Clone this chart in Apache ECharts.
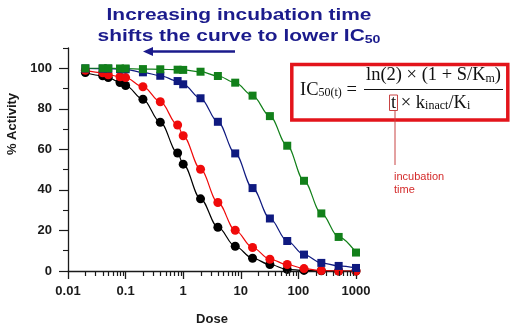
<!DOCTYPE html>
<html>
<head>
<meta charset="utf-8">
<script src="https://cdn.jsdelivr.net/npm/echarts@6/dist/echarts.min.js"></script>
<style>
  html, body { margin: 0; padding: 0; background: #fff; }
  #chart { width: 513px; height: 325px; }
</style>
</head>
<body>
<div id="chart"></div>
<script>
// Inhibitor dose series (same dilution points for every incubation time)
const doses = [0.02, 0.04, 0.05, 0.08, 0.1, 0.2, 0.4, 0.8, 1, 2, 4, 8, 16, 32, 64, 125, 250, 500, 1000];

// % activity remaining, one array per incubation time (longest first)
const blackActivity = [97.9, 96.3, 95.4, 93.0, 91.5, 84.7, 73.4, 58.2, 52.7, 35.6, 21.6, 12.2, 6.3, 3.2, 0.8, 0.3, 0.1, 0, 0];
const redActivity   = [99.0, 97.8, 96.8, 95.8, 95.4, 90.9, 83.5, 72.0, 66.7, 50.2, 33.8, 20.1, 11.6, 5.8, 3.2, 1.2, 0.2, 0, 0];
const blueActivity  = [99.9, 99.8, 99.8, 99.6, 99.5, 98.0, 96.3, 93.7, 92.1, 85.2, 73.6, 58.0, 40.9, 25.9, 14.8, 8.1, 4.0, 2.5, 1.5];
const greenActivity = [100, 100, 100, 99.9, 99.9, 99.6, 99.5, 99.3, 99.2, 98.3, 96.2, 92.9, 86.5, 76.4, 61.8, 44.5, 28.4, 16.8, 9.1];

// Axis ticks
const xTickLabels = [0.01, 0.1, 1, 10, 100, 1000];
const yTickLabels = [0, 20, 40, 60, 80, 100];
const yMinorTicks = [10, 30, 50, 70, 90, 110];
const minorSteps = [2, 3, 4, 5, 6, 7, 8, 9];

const xMinorTicks = [];
xTickLabels.slice(0, -1).forEach(d => minorSteps.forEach(m => xMinorTicks.push(+(d * m).toPrecision(4))));

const pairs = ys => doses.map((d, i) => [d, ys[i]]);

const axisColor = '#1a1a1a';
const labelFont = { fontFamily: 'Liberation Sans, Arial, sans-serif', fontWeight: 'bold', fontSize: 13, color: '#1a1a1a' };

function curve(name, ys, color, symbol, size) {
  return {
    name, type: 'line', data: pairs(ys),
    smooth: 0.35, smoothMonotone: 'x',
    symbol, symbolSize: size,
    lineStyle: { color, width: 1.2 },
    itemStyle: { color, borderWidth: 0 },
    emphasis: { disabled: true },
    z: 3,
    animation: false
  };
}

const serif = 'Liberation Serif, Times New Roman, serif';
const sans = 'Liberation Sans, Arial, sans-serif';
const navy = '#1b1b8c';
const red = '#e3141b';
const ink = '#111';

const formulaRich = {
  n: { fill: ink, fontFamily: serif, fontSize: 18.5, lineHeight: 18 },
  s: { fill: ink, fontFamily: serif, fontSize: 12, lineHeight: 12, verticalAlign: 'bottom' }
};

const decorations = [
  // headline (typeset slightly wide)
  { type: 'text', x: 239, y: 15, scaleX: 1.23, style: { text: 'Increasing incubation time', fill: navy, font: 'bold 17px ' + sans, textAlign: 'center', textVerticalAlign: 'middle' } },
  { type: 'text', x: 239, y: 36.5, scaleX: 1.23, style: {
      text: '{a|shifts the curve to lower IC}{s|50}', textAlign: 'center', textVerticalAlign: 'middle',
      rich: {
        a: { fill: navy, fontFamily: sans, fontWeight: 'bold', fontSize: 17, lineHeight: 19 },
        s: { fill: navy, fontFamily: sans, fontWeight: 'bold', fontSize: 11.5, lineHeight: 11, verticalAlign: 'bottom' }
      } } },
  { type: 'line', shape: { x1: 150, y1: 51.5, x2: 235, y2: 51.5 }, style: { stroke: navy, lineWidth: 2.5 } },
  { type: 'polygon', shape: { points: [[143, 51.5], [153, 47], [153, 56]] }, style: { fill: navy } },

  // formula box
  { type: 'rect', shape: { x: 291.8, y: 64.5, width: 216, height: 55.5 }, style: { fill: 'none', stroke: red, lineWidth: 3.5 } },
  { type: 'text', x: 300, y: 90, style: { text: '{n|IC}{s|50(t)}{n| =}', textVerticalAlign: 'middle', rich: formulaRich } },
  { type: 'text', x: 433.5, y: 75.5, style: { text: '{n|ln(2) × (1 + S/K}{s|m}{n|)}', textAlign: 'center', textVerticalAlign: 'middle', rich: formulaRich } },
  { type: 'line', shape: { x1: 364, y1: 89.5, x2: 503, y2: 89.5 }, style: { stroke: ink, lineWidth: 1 } },
  { type: 'text', x: 391, y: 103, style: { text: '{n|t × k}{s|inact}{n|/K}{s|i}', textVerticalAlign: 'middle', rich: formulaRich } },
  { type: 'rect', shape: { x: 389.5, y: 95, width: 8, height: 15.5 }, style: { fill: 'none', stroke: '#c84444', lineWidth: 1 } },
  { type: 'line', shape: { x1: 395, y1: 110.5, x2: 395, y2: 165 }, style: { stroke: '#c84444', lineWidth: 1 } },
  { type: 'text', x: 394, y: 177, style: { text: 'incubation', fill: '#d42a2a', font: '11px ' + sans, textVerticalAlign: 'middle' } },
  { type: 'text', x: 394, y: 190, style: { text: 'time', fill: '#d42a2a', font: '11px ' + sans, textVerticalAlign: 'middle' } },

  // axis titles
  { type: 'text', x: 12, y: 124, rotation: Math.PI / 2, style: { text: '% Activity', fill: '#1a1a1a', font: 'bold 13px ' + sans, textAlign: 'center', textVerticalAlign: 'middle' } },
  { type: 'text', x: 212, y: 319, style: { text: 'Dose', fill: '#1a1a1a', font: 'bold 13px ' + sans, textAlign: 'center', textVerticalAlign: 'middle' } }
];

const chart = echarts.init(document.getElementById('chart'), null, { renderer: 'canvas' });
chart.setOption({
  animation: false,
  backgroundColor: '#fff',
  grid: { left: 68, right: 157, top: 48, bottom: 54, containLabel: false },
  xAxis: {
    type: 'log', logBase: 10, min: 0.01, max: 1000, position: 'bottom',
    axisLine: { show: true, onZero: false, lineStyle: { color: axisColor, width: 1.3 } },
    axisTick: { show: true, length: 8, lineStyle: { color: axisColor, width: 1.3 } },
    axisLabel: Object.assign({ margin: 14, formatter: v => String(+(+v).toPrecision(6)) }, labelFont),
    splitLine: { show: false }
  },
  yAxis: [
    {
      type: 'value', min: 0, max: 110, position: 'left',
      axisLine: { show: true, onZero: false, lineStyle: { color: axisColor, width: 1.3 } },
      axisTick: { show: true, length: 9, customValues: yTickLabels, lineStyle: { color: axisColor, width: 1.2 } },
      axisLabel: Object.assign({ customValues: yTickLabels, margin: 16 }, labelFont),
      splitLine: { show: false }
    },
    {
      type: 'value', min: 0, max: 110, position: 'left',
      axisLine: { show: false },
      axisTick: { show: true, length: 5, customValues: yMinorTicks, lineStyle: { color: axisColor, width: 1.1 } },
      axisLabel: { show: false },
      splitLine: { show: false }
    }
  ],
  series: [
    curve('black', blackActivity, '#000000', 'circle', 9),
    curve('red', redActivity, '#f00a0a', 'circle', 9),
    curve('blue', blueActivity, '#0f1a80', 'rect', 8),
    curve('green', greenActivity, '#12801a', 'rect', 8)
  ],
  graphic: decorations
});

// Short 2..9 ticks on the dose axis, positioned through the axis' own log scale
const axisY = chart.convertToPixel({ yAxisIndex: 0 }, 0);
function minorTick(value) {
  const px = chart.convertToPixel({ xAxisIndex: 0 }, value);
  const x = Math.round(px) + 0.5;
  return { type: 'line', z: 100, shape: { x1: x, y1: axisY, x2: x, y2: axisY + 5 }, style: { stroke: axisColor, lineWidth: 1.2 } };
}
const minorTicks = xMinorTicks.map(minorTick).filter(g => isFinite(g.shape.x1) && isFinite(g.shape.y1));
chart.setOption({ graphic: decorations.concat(minorTicks) });
</script>
</body>
</html>
